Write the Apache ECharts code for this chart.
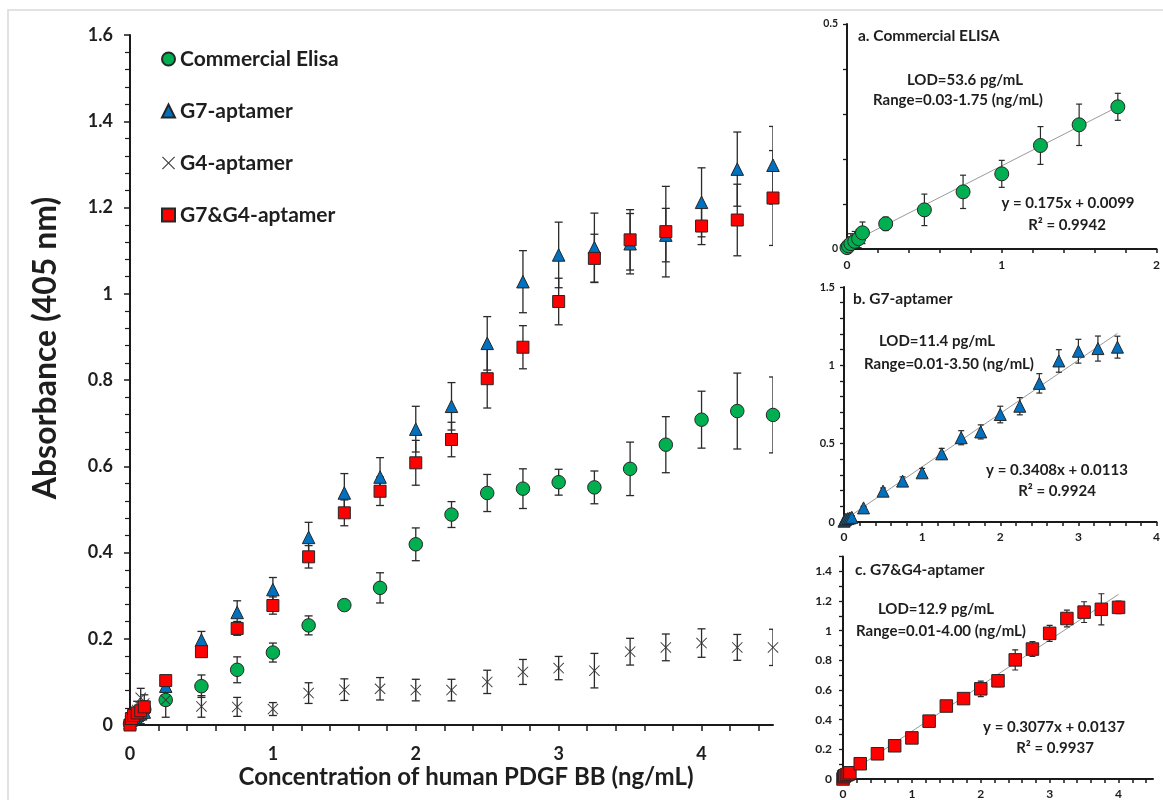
<!DOCTYPE html>
<html>
<head>
<meta charset="utf-8">
<script src="https://cdn.jsdelivr.net/npm/echarts@6/dist/echarts.min.js"></script>
<style>
html,body{margin:0;padding:0;background:#fff;}
#chart{width:1163px;height:800px;}
</style>
</head>
<body>
<div id="chart"></div>
<script>
// ---------- data ----------
const conc = [0, 0.01, 0.025, 0.05, 0.075, 0.1, 0.25, 0.5, 0.75, 1, 1.25, 1.5, 1.75, 2, 2.25, 2.5, 2.75, 3, 3.25, 3.5, 3.75, 4, 4.25, 4.5];

const elisa    = [0.003, 0.007, 0.012, 0.017, 0.023, 0.036, 0.058, 0.090, 0.128, 0.168, 0.231, 0.278, 0.318, 0.419, 0.488, 0.538, 0.548, 0.563, 0.551, 0.594, 0.650, 0.708, 0.728, 0.719];
const elisaErr = [0.010, 0.015, 0.020, 0.020, 0.020, 0.020, 0.012, 0.026, 0.030, 0.022, 0.022, 0.010, 0.035, 0.038, 0.030, 0.043, 0.046, 0.030, 0.038, 0.062, 0.065, 0.066, 0.088, 0.088];

const g7    = [0.005, 0.012, 0.018, 0.022, 0.026, 0.030, 0.090, 0.197, 0.261, 0.314, 0.435, 0.538, 0.575, 0.686, 0.739, 0.885, 1.028, 1.090, 1.107, 1.116, 1.136, 1.212, 1.289, 1.298];
const g7Err = [0.005, 0.008, 0.008, 0.010, 0.010, 0.010, 0.010, 0.020, 0.027, 0.028, 0.035, 0.045, 0.045, 0.053, 0.055, 0.062, 0.072, 0.076, 0.080, 0.070, 0.062, 0.080, 0.086, 0.090];

const g4    = [0.008, 0.015, 0.022, 0.035, 0.063, 0.050, 0.058, 0.043, 0.042, 0.037, 0.074, 0.082, 0.084, 0.081, 0.081, 0.100, 0.123, 0.132, 0.126, 0.170, 0.180, 0.190, 0.180, 0.180];
const g4Err = [0.010, 0.010, 0.015, 0.020, 0.022, 0.020, 0.040, 0.025, 0.022, 0.015, 0.024, 0.025, 0.026, 0.025, 0.025, 0.027, 0.029, 0.027, 0.040, 0.031, 0.031, 0.033, 0.030, 0.042];

const g7g4    = [0.000, 0.015, 0.022, 0.028, 0.033, 0.042, 0.103, 0.170, 0.224, 0.277, 0.390, 0.492, 0.542, 0.608, 0.662, 0.803, 0.876, 0.982, 1.082, 1.125, 1.144, 1.157, 1.171, 1.222];
const g7g4Err = [0.005, 0.006, 0.008, 0.008, 0.008, 0.008, 0.010, 0.012, 0.016, 0.020, 0.026, 0.030, 0.033, 0.052, 0.040, 0.068, 0.050, 0.054, 0.056, 0.070, 0.105, 0.043, 0.083, 0.110];

// inset a (commercial ELISA calibration, 0 - 1.75 ng/mL)
const elisaFitConc = [0, 0.01, 0.025, 0.05, 0.075, 0.1, 0.25, 0.5, 0.75, 1, 1.25, 1.5, 1.75];
const elisaFit     = [0.003, 0.007, 0.012, 0.017, 0.023, 0.036, 0.056, 0.087, 0.127, 0.167, 0.230, 0.276, 0.316];
const elisaFitErr  = [0.010, 0.020, 0.022, 0.022, 0.020, 0.024, 0.015, 0.035, 0.037, 0.030, 0.042, 0.046, 0.030];
// insets b and c use the first points of the main series
const g7FitCount = 20;    // 0 - 3.50 ng/mL
const g7g4FitCount = 22;  // 0 - 4.00 ng/mL

// trend line end points
const trendA = [[0, 0.0099], [1.75, 0.316]];
const trendB = [[0, 0.0113], [3.5, 1.204]];
const trendC = [[0, 0.0137], [4.0, 1.245]];

// ticks / labels
const mainXTicks  = [0,0.2,0.4,0.6,0.8,1,1.2,1.4,1.6,1.8,2,2.2,2.4,2.6,2.8,3,3.2,3.4,3.6,3.8,4,4.2,4.4];
const mainXLabels = [0,1,2,3,4];
const insetAXTicks  = [0,0.2,0.4,0.6,0.8,1,1.2,1.4,1.6,1.8,2];
const insetAXLabels = [0,1,2];
const insetBXTicks  = [0,0.2,0.4,0.6,0.8,1,1.2,1.4,1.6,1.8,2,2.2,2.4,2.6,2.8,3,3.2,3.4,3.6,3.8,4];
const insetBXLabels = [0,1,2,3,4];
const insetCXTicks  = [0,0.2,0.4,0.6,0.8,1,1.2,1.4,1.6,1.8,2,2.2,2.4,2.6,2.8,3,3.2,3.4,3.6,3.8,4,4.2,4.4];
const insetCXLabels = [0,1,2,3,4];
const insetCYTicks  = [0,0.1,0.2,0.3,0.4,0.5,0.6,0.7,0.8,0.9,1,1.1,1.2,1.3,1.4,1.5];
const insetCYLabels = [0,0.2,0.4,0.6,0.8,1,1.2,1.4];

const legendNames = ['Commercial Elisa', 'G7-aptamer', 'G4-aptamer', 'G7&G4-aptamer'];
const yTitle = 'Absorbance (405 nm)';
const xTitle = 'Concentration of human PDGF BB (ng/mL)';

// ---------- styling ----------
const FONT = 'Lato, "Open Sans", "DejaVu Sans", sans-serif';
const TXT = '#1e1e1e';
const AX = '#1a1a1a';
const GREEN = '#00B050', BLUE = '#0070C0', RED = '#FF0000', CROSS = '#3a3a3a';
const crossPath = 'path://M0,6 L6,0 L50,44 L94,0 L100,6 L56,50 L100,94 L94,100 L50,56 L6,100 L0,94 L44,50 Z';

function pts(xs, ys, n) {
  const out = [];
  const m = n || ys.length;
  for (let i = 0; i < m; i++) out.push([xs[i], ys[i]]);
  return out;
}
function errs(xs, ys, es, n) {
  const out = [];
  const m = n || ys.length;
  for (let i = 0; i < m; i++) out.push([xs[i], ys[i] - es[i], ys[i] + es[i]]);
  return out;
}

function errSeries(data, xi, cap, lw) {
  return {
    type: 'custom', xAxisIndex: xi, yAxisIndex: xi, data: data, z: 2, clip: true,
    silent: true,
    encode: {x: 0, y: [1, 2]},
    renderItem: function (params, api) {
      const x = api.value(0);
      const lo = api.coord([x, api.value(1)]);
      const hi = api.coord([x, api.value(2)]);
      const st = {stroke: '#2a2a2a', lineWidth: lw};
      return {type: 'group', children: [
        {type: 'line', shape: {x1: lo[0], y1: lo[1], x2: hi[0], y2: hi[1]}, style: st},
        {type: 'line', shape: {x1: hi[0] - cap, y1: hi[1], x2: hi[0] + cap, y2: hi[1]}, style: st},
        {type: 'line', shape: {x1: lo[0] - cap, y1: lo[1], x2: lo[0] + cap, y2: lo[1]}, style: st}
      ]};
    }
  };
}
function scat(name, data, xi, symbol, size, color, border) {
  return {
    type: 'scatter', name: name, xAxisIndex: xi, yAxisIndex: xi, data: data,
    symbol: symbol, symbolSize: size, z: 5,
    itemStyle: {color: color, borderColor: border ? '#262626' : 'transparent', borderWidth: border ? 1 : 0, opacity: 1},
    emphasis: {disabled: true}
  };
}
function line(data, xi) {
  return {type: 'line', xAxisIndex: xi, yAxisIndex: xi, data: data, symbol: 'none', z: 1,
    lineStyle: {color: '#9a9a9a', width: 1}, silent: true};
}

function xAxis(gi, min, max, ticks, labels, fs, tickLen, margin) {
  return {
    type: 'value', gridIndex: gi, min: min, max: max,
    axisLine: {show: true, onZero: false, lineStyle: {color: AX, width: 2}},
    axisTick: {show: true, customValues: ticks, length: tickLen, lineStyle: {color: AX, width: 1.5}},
    axisLabel: {customValues: labels, fontSize: fs, fontWeight: 'bold', color: TXT, fontFamily: FONT, margin: margin},
    splitLine: {show: false}
  };
}
function yAxis(gi, min, max, extra) {
  const a = {
    type: 'value', gridIndex: gi, min: min, max: max,
    axisLine: {show: true, onZero: false, lineStyle: {color: AX, width: 2}},
    axisTick: {show: true, length: 6, lineStyle: {color: AX, width: 1.5}},
    axisLabel: {fontSize: 18, fontWeight: 'bold', color: TXT, fontFamily: FONT, margin: 17},
    splitLine: {show: false}
  };
  return Object.assign(a, extra);
}

const chart = echarts.init(document.getElementById('chart'), null, {renderer: 'canvas'});

function txt(x, y, s, fs, align, rot) {
  return {type: 'text', x: x, y: y, rotation: rot || 0,
    style: {text: s, fontSize: fs, fontWeight: 'bold', fill: TXT, fontFamily: FONT, align: align || 'center', verticalAlign: 'middle'}, z: 10};
}

const option = {
  animation: false,
  backgroundColor: '#fff',
  grid: [
    {left: 130, top: 35, width: 643, height: 690},
    {left: 847, top: 24, width: 311, height: 225},
    {left: 844, top: 287, width: 314, height: 235},
    {left: 843, top: 556.5, width: 310, height: 224}
  ],
  xAxis: [
    xAxis(0, 0, 4.5, mainXTicks, mainXLabels, 18, 6, 20),
    xAxis(1, 0, 2, insetAXTicks, insetAXLabels, 12, 4, 10),
    xAxis(2, 0, 4, insetBXTicks, insetBXLabels, 12, 4, 9),
    xAxis(3, 0, 4.5, insetCXTicks, insetCXLabels, 12, 4, 9)
  ],
  yAxis: [
    yAxis(0, 0, 1.6, {
      interval: 0.2,
      minorTick: {show: true, splitNumber: 5, length: 5, lineStyle: {color: AX, width: 1.2}}
    }),
    yAxis(1, 0, 0.5, {
      interval: 0.5,
      axisTick: {show: true, length: 4, lineStyle: {color: AX, width: 1.3}},
      minorTick: {show: true, splitNumber: 5, length: 4, lineStyle: {color: AX, width: 1.3}},
      axisLabel: {fontSize: 10.5, fontWeight: 'bold', color: TXT, fontFamily: FONT, margin: 9}
    }),
    yAxis(2, 0, 1.5, {
      interval: 0.5,
      axisTick: {show: true, length: 4, lineStyle: {color: AX, width: 1.3}},
      minorTick: {show: true, splitNumber: 5, length: 4, lineStyle: {color: AX, width: 1.3}},
      axisLabel: {fontSize: 11, fontWeight: 'bold', color: TXT, fontFamily: FONT, margin: 9}
    }),
    yAxis(3, 0, 1.5, {
      axisTick: {show: true, customValues: insetCYTicks, length: 4, lineStyle: {color: AX, width: 1.3}},
      axisLabel: {customValues: insetCYLabels, fontSize: 12, fontWeight: 'bold', color: TXT, fontFamily: FONT, margin: 11}
    })
  ],
  legend: {
    show: true, orient: 'vertical', left: 156, top: 42,
    itemWidth: 13, itemHeight: 13, itemGap: 28,
    data: legendNames,
    selectedMode: false,
    textStyle: {fontSize: 21, fontWeight: 'bold', color: TXT, fontFamily: FONT, lineHeight: 24}
  },
  series: [
    // main error bars
    errSeries(errs(conc, elisa, elisaErr), 0, 4, 1.3),
    errSeries(errs(conc, g4, g4Err), 0, 4, 1.3),
    errSeries(errs(conc, g7, g7Err), 0, 4, 1.3),
    errSeries(errs(conc, g7g4, g7g4Err), 0, 4, 1.3),
    // main markers
    scat('Commercial Elisa', pts(conc, elisa), 0, 'circle', 13.5, GREEN, true),
    scat('G4-aptamer', pts(conc, g4), 0, crossPath, 11, CROSS, false),
    scat('G7-aptamer', pts(conc, g7), 0, 'triangle', 12.5, BLUE, true),
    scat('G7&G4-aptamer', pts(conc, g7g4), 0, 'rect', 12, RED, true),
    // inset a
    line(trendA, 1),
    errSeries(errs(elisaFitConc, elisaFit, elisaFitErr), 1, 3, 1.2),
    scat('a', pts(elisaFitConc, elisaFit), 1, 'circle', 14, GREEN, true),
    // inset b
    line(trendB, 2),
    errSeries(errs(conc, g7, g7Err, g7FitCount), 2, 3, 1.2),
    scat('b', pts(conc, g7, g7FitCount), 2, 'triangle', 12, BLUE, true),
    // inset c
    line(trendC, 3),
    errSeries(errs(conc, g7g4, g7g4Err, g7g4FitCount), 3, 3, 1.2),
    scat('c', pts(conc, g7g4, g7g4FitCount), 3, 'rect', 12.5, RED, true)
  ],
  graphic: [
    {type: 'rect', shape: {x: 8, y: 10, width: 1180, height: 820}, style: {fill: 'none', stroke: '#d9d9d9', lineWidth: 1.5}, z: 0, silent: true},
    txt(46, 348, yTitle, 32, 'center', Math.PI / 2),
    txt(466, 777, xTitle, 24),
    txt(858, 36, 'a. Commercial ELISA', 15.5, 'left'),
    txt(965, 80, 'LOD=53.6 pg/mL', 15),
    txt(958, 100, 'Range=0.03-1.75 (ng/mL)', 15),
    txt(1068, 203, 'y = 0.175x + 0.0099', 15),
    txt(1067, 225, 'R² = 0.9942', 15),
    txt(853, 299, 'b. G7-aptamer', 15.5, 'left'),
    txt(937, 341, 'LOD=11.4 pg/mL', 15),
    txt(949, 364, 'Range=0.01-3.50 (ng/mL)', 15),
    txt(1057, 470, 'y = 0.3408x + 0.0113', 15),
    txt(1057, 491, 'R² = 0.9924', 15),
    txt(855, 570, 'c. G7&G4-aptamer', 15.5, 'left'),
    txt(936, 609, 'LOD=12.9 pg/mL', 15),
    txt(941, 631, 'Range=0.01-4.00 (ng/mL)', 15),
    txt(1054, 727, 'y = 0.3077x + 0.0137', 15),
    txt(1055, 748, 'R² = 0.9937', 15)
  ]
};
chart.setOption(option);
</script>
</body>
</html>
